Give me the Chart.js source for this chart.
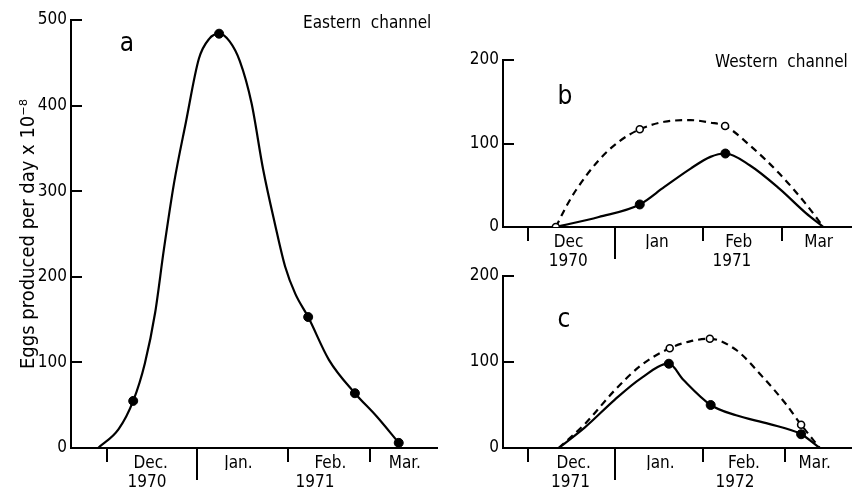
<!DOCTYPE html>
<html>
<head>
<meta charset="utf-8">
<script src="https://cdn.jsdelivr.net/npm/chart.js@4.4.0/dist/chart.umd.min.js"></script>
<style>
  html, body { margin: 0; padding: 0; background: #fff; }
  body { position: relative; width: 857px; height: 492px; overflow: hidden; }
  canvas { position: absolute; }
</style>
</head>
<body>
<canvas id="chartA" width="450" height="492" style="left:0;top:0"></canvas>
<canvas id="chartB" width="417" height="231" style="left:440px;top:40px"></canvas>
<canvas id="chartC" width="417" height="236" style="left:440px;top:256px"></canvas>
<script>
// days counted from 1 December of the first winter
// a: Eastern channel 1970-71
const aCurveDay  = [-3, 4, 9, 13, 16.5, 19.5, 23, 27, 31.5, 35, 38.4, 42, 45.5, 49.5, 53.5, 57.5, 61, 64.5, 68.9, 76, 84.9, 92.3, 99.9];
const aCurveEggs = [0, 22, 55, 99, 158, 232, 310, 380, 455, 478, 484, 475, 452, 403, 325, 262, 212, 180, 153, 103, 64, 37, 6];
const aObsDay  = [9, 38.4, 68.9, 84.9, 99.9];
const aObsEggs = [55, 484, 153, 64, 6];

// b: Western channel 1970-71
const bDashDay  = [10, 13.6, 17.1, 25.2, 32.2, 39.7, 48.4, 57.7, 64.7, 69.9, 78.6, 89.1, 98.4, 104.7];
const bDashEggs = [0, 24, 44, 80, 102, 117, 126, 128, 125, 121, 98, 64, 28, 0];
const bOpenDay  = [10, 39.7, 69.9];
const bOpenEggs = [0, 117, 121];
const bSolidDay  = [10, 25.2, 39.7, 48.4, 57.7, 64.7, 70, 78.6, 89.1, 98.4, 104.7];
const bSolidEggs = [0, 12, 27, 48, 70, 84, 88, 74, 46, 17, 0];
const bFillDay  = [39.7, 70];
const bFillEggs = [27, 88];

// c: Western channel 1971-72
const cDashDay  = [11, 20.3, 30.8, 40.1, 50.3, 57.5, 64.5, 73.8, 83.1, 91.2, 96.8, 103.4];
const cDashEggs = [0, 28, 67, 96, 116, 124, 127, 114, 83, 52, 27, 0];
const cOpenDay  = [50.3, 64.5, 96.8];
const cOpenEggs = [116, 127, 27];
const cSolidDay  = [11, 20.3, 30.8, 40.1, 50, 55.2, 64.8, 73.8, 85.4, 96.8, 103.4];
const cSolidEggs = [0, 24, 56, 81, 98, 79, 50, 38, 28, 16, 0];
const cFillDay  = [50, 64.8, 96.8];
const cFillEggs = [98, 50, 16];

// axis labels
const monthsDot = ['Dec.', 'Jan.', 'Feb.', 'Mar.'];
const monthsPlain = ['Dec', 'Jan', 'Feb', 'Mar'];
const aMonthAt = [15, 45, 76.5, 102];
const bMonthAt = [14.5, 45.8, 74.7, 103];
const cMonthAt = [16.3, 47, 76.6, 101.6];
const aYears = ['1970', '1971'], aYearAt = [13.7, 71.2];
const bYears = ['1970', '1971'], bYearAt = [14.4, 72.3];
const cYears = ['1971', '1972'], cYearAt = [15.2, 73.4];
const monthStarts7071 = [0, 31, 62, 90];
const monthStarts7172 = [0, 31, 62, 91];

const FONT = '"DejaVu Sans Condensed", "Liberation Sans Narrow", "DejaVu Sans", sans-serif';

const panelDecor = {
  id: 'panelDecor',
  afterDraw(chart, args, o) {
    const ctx = chart.ctx, area = chart.chartArea;
    const xs = chart.scales.x, ys = chart.scales.y;
    ctx.save();
    ctx.strokeStyle = '#000';
    ctx.lineWidth = 2;
    ctx.beginPath();
    ys.ticks.forEach(t => {
      const py = Math.round(ys.getPixelForValue(t.value));
      ctx.moveTo(area.left, py);
      ctx.lineTo(area.left + 11, py);
    });
    o.monthStarts.forEach((d, i) => {
      const px = Math.round(xs.getPixelForValue(d));
      ctx.moveTo(px, area.bottom);
      ctx.lineTo(px, area.bottom + (i === 1 ? 32 : 14));
    });
    ctx.stroke();
    ctx.fillStyle = '#000';
    ctx.textBaseline = 'middle';
    ctx.textAlign = 'center';
    ctx.font = '26px ' + FONT;
    ctx.fillText(o.letter, o.letterAt[0], o.letterAt[1]);
    if (o.note) {
      ctx.textAlign = 'left';
      ctx.font = '17px ' + FONT;
      ctx.fillText(o.note, o.noteAt[0], o.noteAt[1]);
    }
    ctx.restore();
  }
};

function pts(days, vals) {
  return days.map((d, i) => ({ x: d, y: vals[i] }));
}
function curve(days, vals, dash) {
  return {
    data: pts(days, vals), borderColor: '#000', borderWidth: 2.2, borderDash: dash || [],
    pointRadius: 0, cubicInterpolationMode: 'monotone', fill: false
  };
}
function marks(days, vals, open) {
  return {
    data: pts(days, vals), showLine: false,
    pointRadius: open ? 3.5 : 4.5,
    pointBackgroundColor: open ? '#fff' : '#000',
    pointBorderColor: '#000', pointBorderWidth: open ? 1.6 : 1
  };
}

function tickFont() { return { family: FONT, size: 17 }; }

function makePanel(id, o) {
  new Chart(document.getElementById(id), {
    type: 'line',
    data: { datasets: o.datasets },
    options: {
      responsive: false,
      animation: false,
      events: [],
      layout: { padding: { left: 0, top: 20, right: o.padRight, bottom: 0 } },
      plugins: { legend: { display: false }, tooltip: { enabled: false }, panelDecor: o.decor },
      scales: {
        x: {
          type: 'linear', position: 'bottom', min: o.xMin, max: o.xMax,
          border: { display: true, color: '#000', width: 2 },
          grid: { display: false, drawTicks: false },
          afterBuildTicks: s => { s.ticks = o.monthAt.map(v => ({ value: v })); },
          ticks: { autoSkip: false, maxRotation: 0, padding: 5, color: '#000', font: tickFont(),
                   callback: (v, i) => o.months[i] },
          afterFit: s => { s.height = 22; }
        },
        xYear: {
          type: 'linear', position: 'bottom', min: o.xMin, max: o.xMax,
          border: { display: false },
          grid: { display: false, drawTicks: false },
          afterBuildTicks: s => { s.ticks = o.yearAt.map(v => ({ value: v })); },
          ticks: { autoSkip: false, maxRotation: 0, padding: 2, color: '#000', font: tickFont(),
                   callback: (v, i) => o.years[i] },
          afterFit: s => { s.height = 22; }
        },
        y: {
          min: 0, max: o.yMax,
          border: { display: true, color: '#000', width: 2 },
          grid: { display: false, drawTicks: false },
          ticks: { stepSize: 100, padding: 4, color: '#000', font: tickFont() },
          title: o.yTitle ? { display: true, text: o.yTitle, color: '#000',
                   font: { family: FONT, size: 20 }, padding: { top: 17, bottom: 0 } } : { display: false },
          afterFit: s => { s.width = o.yWidth; }
        }
      }
    },
    plugins: [panelDecor]
  });
}

makePanel('chartA', {
  datasets: [marks(aObsDay, aObsEggs, false), curve(aCurveDay, aCurveEggs)],
  xMin: -12.3, xMax: 113, yMax: 500, yWidth: 71, padRight: 13,
  months: monthsDot, monthAt: aMonthAt, years: aYears, yearAt: aYearAt,
  yTitle: 'Eggs produced per day x 10\u207B\u2078',
  decor: { monthStarts: monthStarts7071, letter: 'a', letterAt: [127, 44],
           note: 'Eastern  channel', noteAt: [303, 24] }
});

makePanel('chartB', {
  datasets: [marks(bFillDay, bFillEggs, false), marks(bOpenDay, bOpenEggs, true),
             curve(bSolidDay, bSolidEggs), curve(bDashDay, bDashEggs, [7, 5])],
  xMin: -8.7, xMax: 114.6, yMax: 200, yWidth: 63, padRight: 0,
  months: monthsPlain, monthAt: bMonthAt, years: bYears, yearAt: bYearAt,
  decor: { monthStarts: monthStarts7071, letter: 'b', letterAt: [125, 57],
           note: 'Western  channel', noteAt: [275, 23] }
});

makePanel('chartC', {
  datasets: [marks(cFillDay, cFillEggs, false), marks(cOpenDay, cOpenEggs, true),
             curve(cSolidDay, cSolidEggs), curve(cDashDay, cDashEggs, [7, 5])],
  xMin: -8.7, xMax: 114.6, yMax: 200, yWidth: 63, padRight: 0,
  months: monthsDot, monthAt: cMonthAt, years: cYears, yearAt: cYearAt,
  decor: { monthStarts: monthStarts7172, letter: 'c', letterAt: [124, 64] }
});
</script>
</body>
</html>
